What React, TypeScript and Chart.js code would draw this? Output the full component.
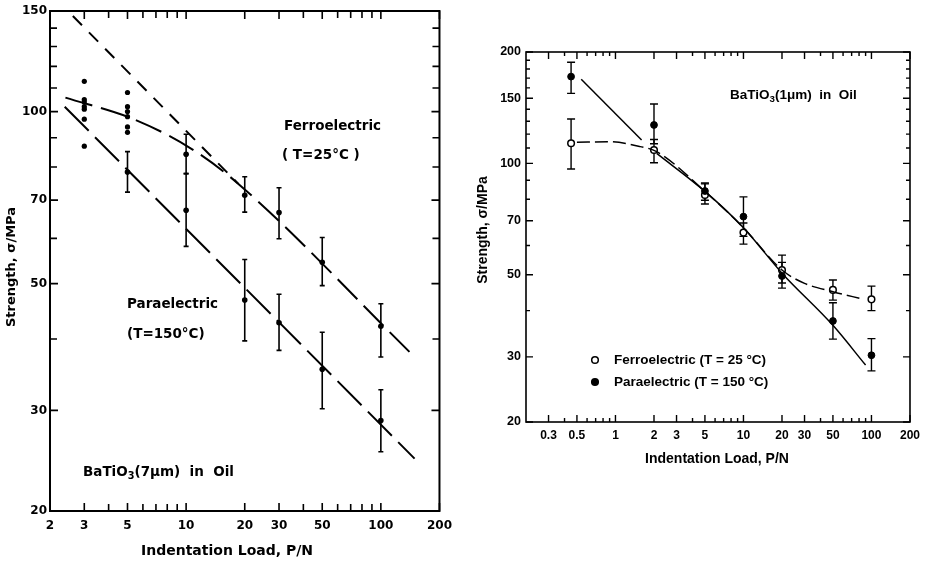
import React, { useEffect, useRef } from 'react';
import { Chart, registerables } from 'chart.js';
Chart.register(...registerables);

// ---------------- Left panel: BaTiO3 (7 µm) in oil ----------------
const L_X_TICKS = [2, 3, 4, 5, 6, 7, 8, 9, 10, 20, 30, 40, 50, 60, 70, 80, 90, 100, 200];
const L_X_LABELS = [2, 3, 5, 10, 20, 30, 50, 100, 200];
const L_Y_TICKS = [20, 30, 40, 50, 60, 70, 80, 90, 100, 110, 120, 130, 140, 150];
const L_Y_LABELS = [20, 30, 50, 70, 100, 150];

const L_FERRO_SCATTER_X = [3, 3, 3, 3, 3, 3, 5, 5, 5, 5, 5, 5];
const L_FERRO_SCATTER_Y = [113, 105, 104, 102, 101, 97, 108, 102, 100, 98, 94, 92];
const L_PARA_SCATTER_X = [3];
const L_PARA_SCATTER_Y = [87];

const L_FERRO_X = [10, 20, 30, 50, 100];
const L_FERRO_Y = [84.2, 71.4, 66.6, 54.5, 42.1];
const L_FERRO_HI = [91.3, 76.9, 73.6, 60.2, 46.1];
const L_FERRO_LO = [77.9, 66.7, 59.9, 49.6, 37.2];

const L_PARA_X = [5, 10, 20, 30, 50, 100];
const L_PARA_Y = [78.4, 67.2, 46.8, 42.7, 35.4, 28.8];
const L_PARA_HI = [85.1, 77.9, 55.1, 47.9, 41.1, 32.6];
const L_PARA_LO = [72.3, 58.1, 39.7, 38.2, 30.2, 25.4];

const L_FERRO_FIT_X = [2.4, 5.5, 10.7, 18.5, 148];
const L_FERRO_FIT_Y = [105.8, 96.7, 86, 74.8, 37.3];
const L_EXTRAP_X = [2.62, 18.5];
const L_EXTRAP_Y = [147, 74.8];
const L_PARA_FIT_X = [2.38, 149];
const L_PARA_FIT_Y = [102, 24.7];

// ---------------- Right panel: BaTiO3 (1 µm) in oil ----------------
const R_X_TICKS = [0.3, 0.4, 0.5, 0.6, 0.7, 0.8, 0.9, 1, 2, 3, 4, 5, 6, 7, 8, 9, 10, 20, 30, 40, 50, 60, 70, 80, 90, 100, 200];
const R_X_LABELS = [0.3, 0.5, 1, 2, 3, 5, 10, 20, 30, 50, 100, 200];
const R_Y_TICKS = [20, 30, 40, 50, 60, 70, 80, 90, 100, 110, 120, 130, 140, 150, 160, 170, 180, 190, 200];
const R_Y_LABELS = [20, 30, 50, 70, 100, 150, 200];

const R_X = [0.45, 2, 5, 10, 20, 50, 100];
const R_FERRO_Y = [113.3, 108.7, 82.1, 65, 51.5, 45.5, 42.9];
const R_FERRO_HI = [131.8, 116, 88, 69, 56.5, 48.4, 46.6];
const R_FERRO_LO = [96.6, 100.4, 77.7, 60.5, 47.5, 42.7, 40];
const R_PARA_Y = [171.6, 127, 84.2, 71.8, 49.6, 37.5, 30.3];
const R_PARA_HI = [187.6, 144.7, 88.5, 81.2, 54, 42, 33.6];
const R_PARA_LO = [154.6, 113, 79.5, 63.5, 46, 33.5, 27.5];

const R_PARA_FIT1_X = [0.54, 1.6];
const R_PARA_FIT1_Y = [168.8, 115.6];
const R_PARA_FIT2_X = [2.1, 5, 10, 20, 50, 90];
const R_PARA_FIT2_Y = [106.4, 84, 67, 50.5, 36.5, 28.5];
const R_FERRO_FIT_X = [0.5, 0.9, 1.56, 2.1, 5, 10, 20, 30, 50, 85];
const R_FERRO_FIT_Y = [114, 114.4, 111, 107.6, 84, 67, 51.5, 47.4, 45, 43];

const pts = (xs: number[], ys: number[]) => xs.map((x, i) => ({ x, y: ys[i] }));

const DJ = '"DejaVu Sans"';
const LS = '"Liberation Sans", Arial';

function logScale(min: number, max: number, tickVals: number[], labelVals: number[], font: any, padding: number, fit: (s: any) => void) {
  return {
    type: 'logarithmic',
    min,
    max,
    grid: { display: false, drawTicks: false },
    border: { display: false },
    afterBuildTicks: (s: any) => {
      s.ticks = tickVals.map((v) => ({ value: v }));
    },
    afterFit: fit,
    ticks: {
      autoSkip: false,
      maxRotation: 0,
      minRotation: 0,
      padding,
      color: '#000',
      font,
      callback: (v: any) => (labelVals.includes(Number(v)) ? String(v) : ''),
    },
  };
}

type Part = { t: string; sub?: boolean };
type TextItem = { parts: Part[]; x: number; y: number; size: number; family: string; align?: 'left' | 'center'; rotate?: boolean };

function drawText(ctx: CanvasRenderingContext2D, item: TextItem) {
  ctx.save();
  ctx.fillStyle = '#000';
  ctx.textBaseline = 'middle';
  ctx.textAlign = 'left';
  let total = 0;
  for (const p of item.parts) {
    const s = p.sub ? item.size * 0.72 : item.size;
    ctx.font = `bold ${s}px ${item.family}`;
    total += ctx.measureText(p.t).width;
  }
  ctx.translate(item.x, item.y);
  if (item.rotate) ctx.rotate(-Math.PI / 2);
  let cx = item.align === 'center' ? -total / 2 : 0;
  for (const p of item.parts) {
    const s = p.sub ? item.size * 0.72 : item.size;
    ctx.font = `bold ${s}px ${item.family}`;
    ctx.fillText(p.t, cx, p.sub ? item.size * 0.32 : 0);
    cx += ctx.measureText(p.t).width;
  }
  ctx.restore();
}

function panelPlugin(o: {
  xTicks: number[]; xLabels: number[]; yTicks: number[]; yLabels: number[];
  major: number; minor: number; frameWidth: number; tickWidth: number;
  cap: number; errWidth: number; texts: TextItem[];
  legend?: { x: number; y: number; open: boolean }[];
}) {
  return {
    id: 'panel',
    beforeDatasetsDraw(chart: any) {
      const ctx = chart.ctx as CanvasRenderingContext2D;
      const xs = chart.scales.x;
      const ys = chart.scales.y;
      ctx.save();
      ctx.strokeStyle = '#000';
      ctx.lineWidth = o.errWidth;
      chart.data.datasets.forEach((ds: any) => {
        if (!ds.errLo) return;
        ds.data.forEach((p: any, i: number) => {
          const px = xs.getPixelForValue(p.x);
          const y1 = ys.getPixelForValue(ds.errLo[i]);
          const y2 = ys.getPixelForValue(ds.errHi[i]);
          ctx.beginPath();
          ctx.moveTo(px, y1);
          ctx.lineTo(px, y2);
          ctx.moveTo(px - o.cap, y1);
          ctx.lineTo(px + o.cap, y1);
          ctx.moveTo(px - o.cap, y2);
          ctx.lineTo(px + o.cap, y2);
          ctx.stroke();
        });
      });
      ctx.restore();
    },
    afterDraw(chart: any) {
      const ctx = chart.ctx as CanvasRenderingContext2D;
      const xs = chart.scales.x;
      const ys = chart.scales.y;
      const { left, right, top, bottom } = chart.chartArea;
      ctx.save();
      ctx.strokeStyle = '#000';
      ctx.lineWidth = o.tickWidth;
      ctx.beginPath();
      o.xTicks.forEach((v) => {
        const px = xs.getPixelForValue(v);
        const len = o.xLabels.includes(v) ? o.major : o.minor;
        ctx.moveTo(px, bottom);
        ctx.lineTo(px, bottom - len);
        ctx.moveTo(px, top);
        ctx.lineTo(px, top + len);
      });
      o.yTicks.forEach((v) => {
        const py = ys.getPixelForValue(v);
        const len = o.yLabels.includes(v) ? o.major : o.minor;
        ctx.moveTo(left, py);
        ctx.lineTo(left + len, py);
        ctx.moveTo(right, py);
        ctx.lineTo(right - len, py);
      });
      ctx.stroke();
      ctx.lineWidth = o.frameWidth;
      ctx.strokeRect(left, top, right - left, bottom - top);
      ctx.restore();
      (o.legend || []).forEach((m) => {
        ctx.save();
        ctx.beginPath();
        ctx.arc(m.x, m.y, 3.3, 0, Math.PI * 2);
        ctx.lineWidth = 1.5;
        ctx.strokeStyle = '#000';
        ctx.fillStyle = m.open ? '#fff' : '#000';
        ctx.fill();
        ctx.stroke();
        ctx.restore();
      });
      o.texts.forEach((t) => drawText(ctx, t));
    },
  };
}

function leftConfig(): any {
  return {
    type: 'line',
    data: {
      datasets: [
        { data: pts(L_FERRO_FIT_X, L_FERRO_FIT_Y), borderColor: '#000', borderWidth: 2, borderDash: [28, 9], pointRadius: 0, cubicInterpolationMode: 'monotone', fill: false },
        { data: pts(L_EXTRAP_X, L_EXTRAP_Y), borderColor: '#000', borderWidth: 2, borderDash: [13, 10], pointRadius: 0, fill: false },
        { data: pts(L_PARA_FIT_X, L_PARA_FIT_Y), borderColor: '#000', borderWidth: 2, borderDash: [34, 9], pointRadius: 0, fill: false },
        { data: pts(L_FERRO_SCATTER_X, L_FERRO_SCATTER_Y), showLine: false, pointRadius: 2.6, pointBackgroundColor: '#000', pointBorderColor: '#000', pointBorderWidth: 0 },
        { data: pts(L_PARA_SCATTER_X, L_PARA_SCATTER_Y), showLine: false, pointRadius: 2.6, pointBackgroundColor: '#000', pointBorderColor: '#000', pointBorderWidth: 0 },
        { data: pts(L_FERRO_X, L_FERRO_Y), errHi: L_FERRO_HI, errLo: L_FERRO_LO, showLine: false, pointRadius: 2.8, pointBackgroundColor: '#000', pointBorderColor: '#000', pointBorderWidth: 0 },
        { data: pts(L_PARA_X, L_PARA_Y), errHi: L_PARA_HI, errLo: L_PARA_LO, showLine: false, pointRadius: 2.8, pointBackgroundColor: '#000', pointBorderColor: '#000', pointBorderWidth: 0 },
      ],
    },
    options: {
      animation: false,
      responsive: false,
      events: [],
      layout: { padding: { left: 0, top: 11, right: 17, bottom: 0 } },
      plugins: { legend: { display: false }, tooltip: { enabled: false } },
      scales: {
        x: logScale(2, 200, L_X_TICKS, L_X_LABELS, { family: DJ, weight: 'bold', size: 12 }, 8, (s: any) => { s.height = 52; }),
        y: logScale(20, 150, L_Y_TICKS, L_Y_LABELS, { family: DJ, weight: 'bold', size: 12 }, 3, (s: any) => { s.width = 50; }),
      },
    },
    plugins: [
      panelPlugin({
        xTicks: L_X_TICKS, xLabels: L_X_LABELS, yTicks: L_Y_TICKS, yLabels: L_Y_LABELS,
        major: 8, minor: 7, frameWidth: 2, tickWidth: 1.6, cap: 2.5, errWidth: 1.6,
        texts: [
          { parts: [{ t: 'Ferroelectric' }], x: 284, y: 126, size: 13.5, family: DJ },
          { parts: [{ t: '( T=25°C )' }], x: 282, y: 155, size: 13.5, family: DJ },
          { parts: [{ t: 'Paraelectric' }], x: 127, y: 304, size: 13.5, family: DJ },
          { parts: [{ t: '(T=150°C)' }], x: 127, y: 334, size: 13.5, family: DJ },
          { parts: [{ t: 'BaTiO' }, { t: '3', sub: true }, { t: '(7μm)  in  Oil' }], x: 83, y: 472, size: 13.5, family: DJ },
          { parts: [{ t: 'Indentation Load, P/N' }], x: 227, y: 551, size: 14, family: DJ, align: 'center' },
          { parts: [{ t: 'Strength, σ/MPa' }], x: 12, y: 267, size: 13, family: DJ, align: 'center', rotate: true },
        ],
      }),
    ],
  };
}

function rightConfig(): any {
  return {
    type: 'line',
    data: {
      datasets: [
        { data: pts(R_PARA_FIT1_X, R_PARA_FIT1_Y), borderColor: '#000', borderWidth: 1.5, pointRadius: 0, fill: false },
        { data: pts(R_PARA_FIT2_X, R_PARA_FIT2_Y), borderColor: '#000', borderWidth: 1.5, pointRadius: 0, cubicInterpolationMode: 'monotone', fill: false },
        { data: pts(R_FERRO_FIT_X, R_FERRO_FIT_Y), borderColor: '#000', borderWidth: 1.5, borderDash: [13, 5], pointRadius: 0, cubicInterpolationMode: 'monotone', fill: false },
        { data: pts(R_X, R_PARA_Y), errHi: R_PARA_HI, errLo: R_PARA_LO, showLine: false, pointRadius: 3.4, pointBackgroundColor: '#000', pointBorderColor: '#000', pointBorderWidth: 1 },
        { data: pts(R_X, R_FERRO_Y), errHi: R_FERRO_HI, errLo: R_FERRO_LO, showLine: false, pointRadius: 3.3, pointBackgroundColor: '#fff', pointBorderColor: '#000', pointBorderWidth: 1.5 },
      ],
    },
    options: {
      animation: false,
      responsive: false,
      events: [],
      layout: { padding: { left: 0, top: 52, right: 16, bottom: 0 } },
      plugins: { legend: { display: false }, tooltip: { enabled: false } },
      scales: {
        x: logScale(0.2, 200, R_X_TICKS, R_X_LABELS, { family: LS, weight: 'bold', size: 12 }, 6, (s: any) => { s.height = 141; }),
        y: logScale(20, 200, R_Y_TICKS, R_Y_LABELS, { family: LS, weight: 'bold', size: 12.5 }, 5, (s: any) => { s.width = 66; }),
      },
    },
    plugins: [
      panelPlugin({
        xTicks: R_X_TICKS, xLabels: R_X_LABELS, yTicks: R_Y_TICKS, yLabels: R_Y_LABELS,
        major: 7, minor: 4, frameWidth: 1.6, tickWidth: 1.4, cap: 4, errWidth: 1.4,
        legend: [
          { x: 135, y: 360, open: true },
          { x: 135, y: 382, open: false },
        ],
        texts: [
          { parts: [{ t: 'BaTiO' }, { t: '3', sub: true }, { t: '(1μm)  in  Oil' }], x: 270, y: 95, size: 13.5, family: LS },
          { parts: [{ t: 'Ferroelectric (T = 25 °C)' }], x: 154, y: 360, size: 13.5, family: LS },
          { parts: [{ t: 'Paraelectric (T = 150 °C)' }], x: 154, y: 382, size: 13.5, family: LS },
          { parts: [{ t: 'Indentation Load, P/N' }], x: 257, y: 459, size: 14, family: LS, align: 'center' },
          { parts: [{ t: 'Strength, σ/MPa' }], x: 23, y: 230, size: 14, family: LS, align: 'center', rotate: true },
        ],
      }),
    ],
  };
}

export default function App() {
  const leftRef = useRef<HTMLCanvasElement>(null);
  const rightRef = useRef<HTMLCanvasElement>(null);
  useEffect(() => {
    const c1 = new Chart(leftRef.current as HTMLCanvasElement, leftConfig());
    const c2 = new Chart(rightRef.current as HTMLCanvasElement, rightConfig());
    return () => {
      c1.destroy();
      c2.destroy();
    };
  }, []);
  return (
    <div style={{ position: 'absolute', left: 0, top: 0, width: 926, height: 563, background: '#fff', overflow: 'hidden' }}>
      <canvas ref={leftRef} width={460} height={563} style={{ position: 'absolute', left: 0, top: 0, width: 460, height: 563 }} />
      <canvas ref={rightRef} width={466} height={563} style={{ position: 'absolute', left: 460, top: 0, width: 466, height: 563 }} />
    </div>
  );
}
